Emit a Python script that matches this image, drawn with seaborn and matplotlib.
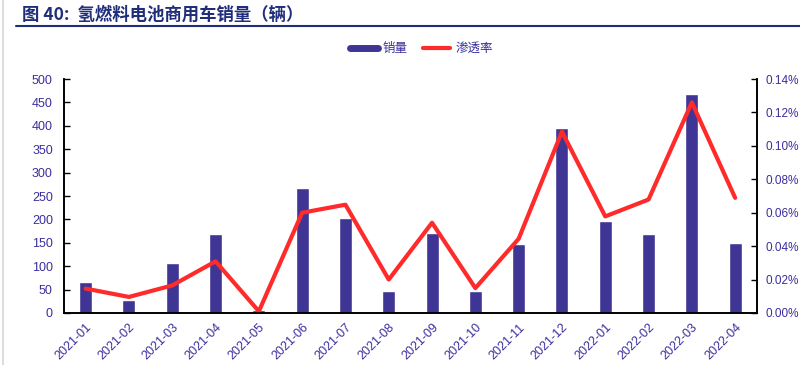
import numpy as np
import pandas as pd
import seaborn as sns
import matplotlib.pyplot as plt
from matplotlib.lines import Line2D

months = ['2021-01', '2021-02', '2021-03', '2021-04', '2021-05', '2021-06',
          '2021-07', '2021-08', '2021-09', '2021-10', '2021-11', '2021-12',
          '2022-01', '2022-02', '2022-03', '2022-04']
sales = [66, 28, 107, 168, 7, 268, 202, 48, 171, 47, 148, 396, 197, 169, 468, 149]
rate = [0.0146, 0.0096, 0.0165, 0.0309, 0.001, 0.060, 0.0648, 0.020,
        0.054, 0.0149, 0.0444, 0.1085, 0.0578, 0.0679, 0.126, 0.0689]

df = pd.DataFrame({'month': months, 'sales': sales, 'rate': rate})

sns.set_style("white")
plt.rcParams['font.family'] = ['Liberation Sans', 'Noto Sans CJK SC', 'DejaVu Sans']

bar_c = '#3F3594'
line_c = '#FF2A2A'
lab_c = '#3A2E9E'
navy = '#1F2D7A'

fig = plt.figure(figsize=(8, 3.65), dpi=100)
ax = fig.add_axes([0.08, 0.1425, 0.866, 0.641])

sns.barplot(data=df, x='month', y='sales', color=bar_c, width=0.3,
            saturation=1, ax=ax)
ax.set_xlim(-0.5, 15.5)
ax.set_ylim(0, 500)
ax.set_yticks(range(0, 501, 50))
ax.set_xlabel('')
ax.set_ylabel('')

ax2 = ax.twinx()
sns.lineplot(x=np.arange(len(months)), y=df['rate'], color=line_c,
             linewidth=3, ax=ax2)
ax2.set_ylim(0, 0.14)
ax2.set_yticks(np.arange(0, 0.141, 0.02))
ax2.set_yticklabels([f'{v:.2f}%' for v in np.arange(0, 0.141, 0.02)])
ax2.set_ylabel('')

# x ticks: labels at centers, tick marks at boundaries
ax.set_xticks(np.arange(len(months)))
ax.set_xticklabels(months, rotation=45, ha='right', rotation_mode='anchor',
                   fontsize=9, color=lab_c)
ax.tick_params(axis='x', length=0, pad=6)
ax.set_xticks(np.arange(-0.5, 15.6, 1), minor=True)
ax.tick_params(axis='x', which='minor', direction='in', length=4, width=1, color='black')
ax.tick_params(axis='y', direction='in', length=4, width=1, color='black',
               labelsize=9, labelcolor=lab_c, left=True, pad=8)
ax2.tick_params(axis='y', direction='in', length=4, width=1, color='black',
                labelsize=8.5, labelcolor=lab_c, right=True, pad=6)

for a in (ax, ax2):
    a.spines['top'].set_visible(False)
    for s in ('left', 'right', 'bottom'):
        a.spines[s].set_color('black')
        a.spines[s].set_linewidth(1.2)

# legend
handles = [Line2D([0], [0], color=bar_c, lw=5),
           Line2D([0], [0], color=line_c, lw=3)]
fig.legend(handles, ['销量', '渗透率'], loc='center', bbox_to_anchor=(0.527, 0.866),
           ncol=2, frameon=False, fontsize=9, labelcolor=lab_c,
           handlelength=2.2, columnspacing=1.2, handletextpad=0.4)

# title and rule
fig.text(0.0275, 0.959, '图 40:  氢燃料电池商用车销量（辆）', fontsize=12.5,
         fontweight='bold', color=navy, va='center', ha='left',
         family=['Noto Sans CJK SC', 'DejaVu Sans'])
fig.add_artist(Line2D([0.02, 1.0], [0.929, 0.929], color=navy, lw=1.5))
fig.add_artist(Line2D([0.004, 0.004], [0, 1], color='#DDDDDD', lw=1.5))

fig.savefig('out.png', dpi=100)
